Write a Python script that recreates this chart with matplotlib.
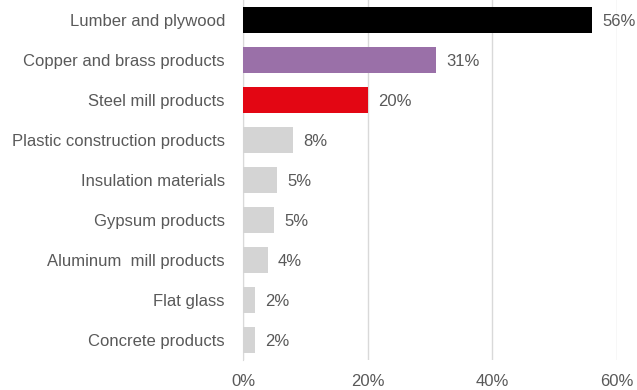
import matplotlib.pyplot as plt
from matplotlib.ticker import FuncFormatter

plt.rcParams['font.family'] = ['Liberation Sans', 'DejaVu Sans']

categories = ['Lumber and plywood', 'Copper and brass products', 'Steel mill products',
              'Plastic construction products', 'Insulation materials', 'Gypsum products',
              'Aluminum  mill products', 'Flat glass', 'Concrete products']
values = [56, 31, 20, 8, 5.5, 5, 4, 2, 2]
labels = ['56%', '31%', '20%', '8%', '5%', '5%', '4%', '2%', '2%']
colors = ['#000000', '#9a70a8', '#e30613'] + ['#d4d4d4'] * 6

text_col = '#595959'

fig = plt.figure(figsize=(6.37, 3.9), dpi=100)
ax = fig.add_axes([0.3815, 0.077, 0.5871, 0.923])

y = list(range(len(categories)))
ax.barh(y, values, height=0.65, color=colors, zorder=3)
for yi, v, lab in zip(y, values, labels):
    ax.text(v + 1.6, yi + 0.03, lab, va='center', ha='left', fontsize=12, color=text_col, zorder=4)

ax.set_yticks(y)
ax.set_yticklabels(categories, fontsize=12, color=text_col)
ax.set_ylim(len(categories) - 0.5, -0.5)
ax.set_xlim(0, 60)
ax.set_xticks([0, 20, 40, 60])
ax.xaxis.set_major_formatter(FuncFormatter(lambda v, p: f'{v:.0f}%'))
ax.tick_params(axis='x', labelsize=12, labelcolor=text_col, length=0, pad=10)
ax.tick_params(axis='y', length=0, pad=13)
ax.grid(axis='x', color='#d9d9d9', linewidth=1, zorder=0)
for s in ['top', 'right', 'bottom']:
    ax.spines[s].set_visible(False)
ax.spines['left'].set_color('#d9d9d9')

fig.savefig('out.png', dpi=100)
